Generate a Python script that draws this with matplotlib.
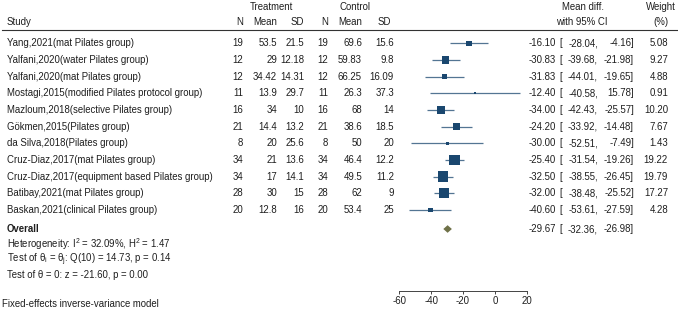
import matplotlib
matplotlib.use('Agg')
from matplotlib import pyplot as plt
import numpy as np

plt.rcParams['font.family'] = ['Liberation Sans', 'DejaVu Sans']
plt.rcParams['mathtext.fontset'] = 'custom'
plt.rcParams['mathtext.rm'] = 'Liberation Sans'
plt.rcParams['mathtext.it'] = 'Liberation Sans:italic'
plt.rcParams['axes.unicode_minus'] = False

studies = ['Yang,2021(mat Pilates group)',
           'Yalfani,2020(water Pilates group)',
           'Yalfani,2020(mat Pilates group)',
           'Mostagi,2015(modified Pilates protocol group)',
           'Mazloum,2018(selective Pilates group)',
           'Gökmen,2015(Pilates group)',
           'da Silva,2018(Pilates group)',
           'Cruz-Diaz,2017(mat Pilates group)',
           'Cruz-Diaz,2017(equipment based Pilates group)',
           'Batibay,2021(mat Pilates group)',
           'Baskan,2021(clinical Pilates group)']
t_n = [19, 12, 12, 11, 16, 21, 8, 34, 34, 28, 20]
t_mean = [53.5, 29, 34.42, 13.9, 34, 14.4, 20, 21, 17, 30, 12.8]
t_sd = [21.5, 12.18, 14.31, 29.7, 10, 13.2, 25.6, 13.6, 14.1, 15, 16]
c_n = [19, 12, 12, 11, 16, 21, 8, 34, 34, 28, 20]
c_mean = [69.6, 59.83, 66.25, 26.3, 68, 38.6, 50, 46.4, 49.5, 62, 53.4]
c_sd = [15.6, 9.8, 16.09, 37.3, 14, 18.5, 20, 12.2, 11.2, 9, 25]
md = [-16.10, -30.83, -31.83, -12.40, -34.00, -24.20, -30.00, -25.40, -32.50, -32.00, -40.60]
lo = [-28.04, -39.68, -44.01, -40.58, -42.43, -33.92, -52.51, -31.54, -38.55, -38.48, -53.61]
hi = [-4.16, -21.98, -19.65, 15.78, -25.57, -14.48, -7.49, -19.26, -26.45, -25.52, -27.59]
weight = [5.08, 9.27, 4.88, 0.91, 10.20, 7.67, 1.43, 19.22, 19.79, 17.27, 4.28]
ov_md, ov_lo, ov_hi = -29.67, -32.36, -26.98
x_ticks = [-60, -40, -20, 0, 20]

W, H = 678, 323
fs = 6.95
tc = '#1e1e1e'
navy = '#1a476f'

fig = plt.figure(figsize=(W / 100, H / 100), dpi=100)
tx = fig.add_axes([0, 0, 1, 1])
tx.set_xlim(0, W)
tx.set_ylim(H, 0)
tx.axis('off')

# row positions in pixels
rows = 43.3 + 16.67 * np.arange(len(studies))
y_ov = 229

def txt(x, y, s, ha='left', **kw):
	tx.text(x, y, s, ha=ha, va='center', fontsize=fs, color=tc, **kw)

# header
txt(271, 7, 'Treatment', ha='center')
txt(355, 7, 'Control', ha='center')
txt(583, 7, 'Mean diff.', ha='center')
txt(661, 7, 'Weight', ha='center')
txt(7, 21.7, 'Study')
txt(243, 21.7, 'N', ha='right')
txt(277, 21.7, 'Mean', ha='right')
txt(304, 21.7, 'SD', ha='right')
txt(328, 21.7, 'N', ha='right')
txt(362, 21.7, 'Mean', ha='right')
txt(391, 21.7, 'SD', ha='right')
txt(582, 21.7, 'with 95% CI', ha='center')
txt(661, 21.7, '(%)', ha='center')
tx.plot([2, W], [30, 30], color='#333333', lw=0.8)

for i, y in enumerate(rows):
	txt(7, y, studies[i])
	txt(243, y, '%g' % t_n[i], ha='right')
	txt(277, y, '%g' % t_mean[i], ha='right')
	txt(304, y, '%g' % t_sd[i], ha='right')
	txt(328, y, '%g' % c_n[i], ha='right')
	txt(362, y, '%g' % c_mean[i], ha='right')
	txt(394, y, '%g' % c_sd[i], ha='right')
	txt(556, y, '%.2f' % md[i], ha='right')
	txt(559, y, '[')
	txt(598, y, '%.2f,' % lo[i], ha='right')
	txt(634, y, '%.2f]' % hi[i], ha='right')
	txt(668, y, '%.2f' % weight[i], ha='right')

txt(7, y_ov, 'Overall', fontweight='bold')
txt(556, y_ov, '%.2f' % ov_md, ha='right')
txt(559, y_ov, '[')
txt(598, y_ov, '%.2f,' % ov_lo, ha='right')
txt(634, y_ov, '%.2f]' % ov_hi, ha='right')

txt(7, 244, 'Heterogeneity: I$^2$ = 32.09%, H$^2$ = 1.47')
txt(7, 259.5, 'Test of θ$_\\mathrm{i}$ = θ$_\\mathrm{j}$: Q(10) = 14.73, p = 0.14')
txt(7, 275, 'Test of θ = 0: z = -21.60, p = 0.00')
txt(2, 304, 'Fixed-effects inverse-variance model')

# forest panel
x0, x1 = 399.3, 526.7
y_axis, y_top = 290.7, 30
ax = fig.add_axes([x0 / W, (H - y_axis) / H, (x1 - x0) / W, (y_axis - y_top) / H])
ax.set_xlim(-60, 20)
ax.set_ylim(y_axis, y_top)
ax.patch.set_alpha(0)
for s in ['top', 'right', 'left']:
	ax.spines[s].set_visible(False)
ax.spines['bottom'].set_color('#444444')
ax.spines['bottom'].set_linewidth(0.7)
ax.set_yticks([])
ax.set_xticks(x_ticks)
ax.tick_params(axis='x', length=2.5, width=0.7, color='#444444', pad=1, labelsize=fs, labelcolor=tc)

ax.hlines(rows, lo, hi, color=navy, alpha=0.75, lw=0.9)
ax.scatter(md, rows, marker='s', s=3.0 * np.array(weight), c=navy, linewidths=0, zorder=3)

dh = 3.8
ax.fill([ov_lo, ov_md, ov_hi, ov_md], [y_ov, y_ov - dh, y_ov, y_ov + dh], color='#6f7148', lw=0)

fig.savefig('out.png', dpi=100)
